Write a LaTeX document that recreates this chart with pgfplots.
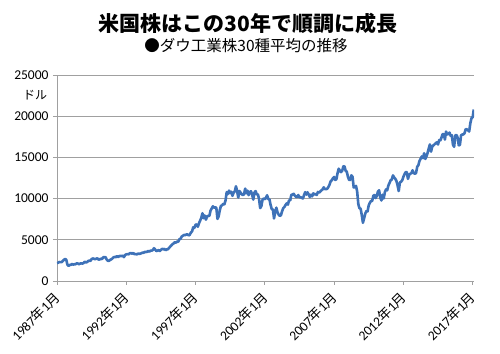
\documentclass[border=0pt]{standalone}
\usepackage{pgfplots}
\usepackage{pgfplotstable}
\pgfplotsset{compat=1.18}
\usepackage{fontspec}
\setmainfont{Carlito}
\newfontfamily\jp{Noto Sans CJK JP}
\definecolor{dowblue}{RGB}{62,114,184}
\definecolor{gridgray}{RGB}{160,160,160}
\pgfplotstableread[row sep=\\]{
yr mo v\\
1987 1 2158\\ 1987 2 2224\\ 1987 3 2305\\ 1987 4 2286\\ 1987 5 2292\\ 1987 6 2419\\ 1987 7 2572\\ 1987 8 2663\\ 1987 9 2596\\ 1987 10 1994\\ 1987 11 1834\\ 1987 12 1939\\
1988 1 1958\\ 1988 2 2072\\ 1988 3 1989\\ 1988 4 2032\\ 1988 5 2031\\ 1988 6 2142\\ 1988 7 2129\\ 1988 8 2032\\ 1988 9 2113\\ 1988 10 2149\\ 1988 11 2115\\ 1988 12 2169\\
1989 1 2342\\ 1989 2 2258\\ 1989 3 2294\\ 1989 4 2419\\ 1989 5 2480\\ 1989 6 2440\\ 1989 7 2661\\ 1989 8 2737\\ 1989 9 2693\\ 1989 10 2645\\ 1989 11 2706\\ 1989 12 2753\\
1990 1 2591\\ 1990 2 2627\\ 1990 3 2707\\ 1990 4 2657\\ 1990 5 2877\\ 1990 6 2881\\ 1990 7 2905\\ 1990 8 2614\\ 1990 9 2453\\ 1990 10 2442\\ 1990 11 2560\\ 1990 12 2634\\
1991 1 2736\\ 1991 2 2882\\ 1991 3 2914\\ 1991 4 2888\\ 1991 5 3028\\ 1991 6 2907\\ 1991 7 3025\\ 1991 8 3044\\ 1991 9 3017\\ 1991 10 3069\\ 1991 11 2895\\ 1991 12 3169\\
1992 1 3223\\ 1992 2 3268\\ 1992 3 3236\\ 1992 4 3359\\ 1992 5 3397\\ 1992 6 3319\\ 1992 7 3394\\ 1992 8 3257\\ 1992 9 3272\\ 1992 10 3226\\ 1992 11 3305\\ 1992 12 3301\\
1993 1 3310\\ 1993 2 3371\\ 1993 3 3435\\ 1993 4 3428\\ 1993 5 3527\\ 1993 6 3516\\ 1993 7 3540\\ 1993 8 3651\\ 1993 9 3555\\ 1993 10 3681\\ 1993 11 3684\\ 1993 12 3754\\
1994 1 3978\\ 1994 2 3832\\ 1994 3 3636\\ 1994 4 3682\\ 1994 5 3758\\ 1994 6 3625\\ 1994 7 3765\\ 1994 8 3913\\ 1994 9 3843\\ 1994 10 3908\\ 1994 11 3739\\ 1994 12 3834\\
1995 1 3843\\ 1995 2 4011\\ 1995 3 4158\\ 1995 4 4321\\ 1995 5 4465\\ 1995 6 4556\\ 1995 7 4708\\ 1995 8 4647\\ 1995 9 4789\\ 1995 10 4756\\ 1995 11 5075\\ 1995 12 5117\\
1996 1 5395\\ 1996 2 5486\\ 1996 3 5587\\ 1996 4 5569\\ 1996 5 5643\\ 1996 6 5655\\ 1996 7 5529\\ 1996 8 5616\\ 1996 9 5882\\ 1996 10 6029\\ 1996 11 6522\\ 1996 12 6448\\
1997 1 6813\\ 1997 2 6878\\ 1997 3 6584\\ 1997 4 7009\\ 1997 5 7331\\ 1997 6 7673\\ 1997 7 8223\\ 1997 8 7622\\ 1997 9 7945\\ 1997 10 7442\\ 1997 11 7823\\ 1997 12 7908\\
1998 1 7907\\ 1998 2 8546\\ 1998 3 8800\\ 1998 4 9063\\ 1998 5 8900\\ 1998 6 8952\\ 1998 7 8883\\ 1998 8 7539\\ 1998 9 7843\\ 1998 10 8592\\ 1998 11 9117\\ 1998 12 9181\\
1999 1 9359\\ 1999 2 9307\\ 1999 3 9786\\ 1999 4 10789\\ 1999 5 10560\\ 1999 6 10971\\ 1999 7 10655\\ 1999 8 10829\\ 1999 9 10337\\ 1999 10 10730\\ 1999 11 10878\\ 1999 12 11497\\
2000 1 10941\\ 2000 2 10128\\ 2000 3 10922\\ 2000 4 10734\\ 2000 5 10522\\ 2000 6 10448\\ 2000 7 10522\\ 2000 8 11215\\ 2000 9 10651\\ 2000 10 10971\\ 2000 11 10415\\ 2000 12 10788\\
2001 1 10887\\ 2001 2 10495\\ 2001 3 9879\\ 2001 4 10735\\ 2001 5 10912\\ 2001 6 10502\\ 2001 7 10523\\ 2001 8 9950\\ 2001 9 8848\\ 2001 10 9075\\ 2001 11 9852\\ 2001 12 10022\\
2002 1 9920\\ 2002 2 10106\\ 2002 3 10404\\ 2002 4 9946\\ 2002 5 9925\\ 2002 6 9243\\ 2002 7 8737\\ 2002 8 8664\\ 2002 9 7592\\ 2002 10 8397\\ 2002 11 8896\\ 2002 12 8342\\
2003 1 8054\\ 2003 2 7891\\ 2003 3 7992\\ 2003 4 8480\\ 2003 5 8850\\ 2003 6 8985\\ 2003 7 9234\\ 2003 8 9416\\ 2003 9 9275\\ 2003 10 9801\\ 2003 11 9782\\ 2003 12 10454\\
2004 1 10488\\ 2004 2 10584\\ 2004 3 10358\\ 2004 4 10226\\ 2004 5 10188\\ 2004 6 10435\\ 2004 7 10140\\ 2004 8 10174\\ 2004 9 10080\\ 2004 10 10027\\ 2004 11 10428\\ 2004 12 10783\\
2005 1 10490\\ 2005 2 10766\\ 2005 3 10504\\ 2005 4 10193\\ 2005 5 10467\\ 2005 6 10275\\ 2005 7 10641\\ 2005 8 10482\\ 2005 9 10569\\ 2005 10 10440\\ 2005 11 10806\\ 2005 12 10718\\
2006 1 10865\\ 2006 2 10993\\ 2006 3 11109\\ 2006 4 11367\\ 2006 5 11168\\ 2006 6 11150\\ 2006 7 11186\\ 2006 8 11381\\ 2006 9 11679\\ 2006 10 12081\\ 2006 11 12222\\ 2006 12 12463\\
2007 1 12622\\ 2007 2 12269\\ 2007 3 12354\\ 2007 4 13063\\ 2007 5 13628\\ 2007 6 13409\\ 2007 7 13212\\ 2007 8 13358\\ 2007 9 13896\\ 2007 10 13930\\ 2007 11 13372\\ 2007 12 13265\\
2008 1 12650\\ 2008 2 12266\\ 2008 3 12263\\ 2008 4 12820\\ 2008 5 12638\\ 2008 6 11350\\ 2008 7 11378\\ 2008 8 11544\\ 2008 9 10851\\ 2008 10 9325\\ 2008 11 8829\\ 2008 12 8776\\
2009 1 8001\\ 2009 2 7063\\ 2009 3 7609\\ 2009 4 8168\\ 2009 5 8500\\ 2009 6 8447\\ 2009 7 9172\\ 2009 8 9496\\ 2009 9 9712\\ 2009 10 9713\\ 2009 11 10345\\ 2009 12 10428\\
2010 1 10067\\ 2010 2 10325\\ 2010 3 10857\\ 2010 4 11009\\ 2010 5 10137\\ 2010 6 9774\\ 2010 7 10466\\ 2010 8 10015\\ 2010 9 10788\\ 2010 10 11118\\ 2010 11 11006\\ 2010 12 11578\\
2011 1 11892\\ 2011 2 12226\\ 2011 3 12320\\ 2011 4 12811\\ 2011 5 12570\\ 2011 6 12414\\ 2011 7 12143\\ 2011 8 11614\\ 2011 9 10913\\ 2011 10 11955\\ 2011 11 12046\\ 2011 12 12218\\
2012 1 12633\\ 2012 2 12952\\ 2012 3 13212\\ 2012 4 13214\\ 2012 5 12393\\ 2012 6 12880\\ 2012 7 13009\\ 2012 8 13091\\ 2012 9 13437\\ 2012 10 13096\\ 2012 11 13026\\ 2012 12 13104\\
2013 1 13861\\ 2013 2 14054\\ 2013 3 14579\\ 2013 4 14840\\ 2013 5 15116\\ 2013 6 14910\\ 2013 7 15500\\ 2013 8 14810\\ 2013 9 15130\\ 2013 10 15546\\ 2013 11 16086\\ 2013 12 16577\\
2014 1 15699\\ 2014 2 16322\\ 2014 3 16458\\ 2014 4 16581\\ 2014 5 16717\\ 2014 6 16827\\ 2014 7 16563\\ 2014 8 17098\\ 2014 9 17043\\ 2014 10 17391\\ 2014 11 17828\\ 2014 12 17823\\
2015 1 17165\\ 2015 2 18133\\ 2015 3 17776\\ 2015 4 17841\\ 2015 5 18011\\ 2015 6 17620\\ 2015 7 17690\\ 2015 8 16528\\ 2015 9 16285\\ 2015 10 17664\\ 2015 11 17720\\ 2015 12 17425\\
2016 1 16466\\ 2016 2 16517\\ 2016 3 17685\\ 2016 4 17774\\ 2016 5 17787\\ 2016 6 17930\\ 2016 7 18432\\ 2016 8 18401\\ 2016 9 18308\\ 2016 10 18142\\ 2016 11 19124\\ 2016 12 19763\\
2017 1 19864\\ 2017 2 20812\\
}\dow
\begin{document}
\begin{tikzpicture}
\useasboundingbox (0,0) rectangle (500bp,354bp);
\node[font=\jp\bfseries\fontsize{21bp}{24bp}\selectfont, anchor=center] at (248bp,330bp) {米国株はこの30年で順調に成長};
\node[font=\jp\fontsize{15.5bp}{18bp}\selectfont, anchor=center] at (246bp,308bp) {●ダウ工業株30種平均の推移};
\node[font=\jp\fontsize{12bp}{14bp}\selectfont, anchor=center] at (35bp,259bp) {ドル};
\begin{axis}[
  at={(57bp,73bp)}, anchor=south west,
  scale only axis, width=417bp, height=206bp,
  xmin=1987, xmax=2017.1, ymin=0, ymax=25000,
  axis x line*=bottom, axis y line*=left,
  axis line style={gridgray, line width=0.8bp},
  tick style={gridgray, line width=0.8bp},
  tick align=outside, major tick length=4bp,
  ytick={0,5000,10000,15000,20000,25000},
  ymajorgrids, grid style={gridgray, line width=0.8bp},
  scaled y ticks=false,
  /pgf/number format/assume math mode=true,
  yticklabel style={/pgf/number format/1000 sep={}, font=\fontsize{13.5bp}{15bp}\selectfont, xshift=-1bp},
  xtick={1987,1992,1997,2002,2007,2012,2017},
  xticklabels={1987{\jp 年}1{\jp 月},1992{\jp 年}1{\jp 月},1997{\jp 年}1{\jp 月},2002{\jp 年}1{\jp 月},2007{\jp 年}1{\jp 月},2012{\jp 年}1{\jp 月},2017{\jp 年}1{\jp 月}},
  xticklabel style={yshift=-9bp, xshift=1bp, rotate=45, anchor=east, font=\fontsize{13.5bp}{15bp}\selectfont, inner sep=1bp},
]
\addplot[dowblue, line width=2.6bp, line join=round, no markers]
  table[x expr={\thisrow{yr}+(\thisrow{mo}-1)/12}, y=v] {\dow};
\end{axis}
\end{tikzpicture}
\end{document}
